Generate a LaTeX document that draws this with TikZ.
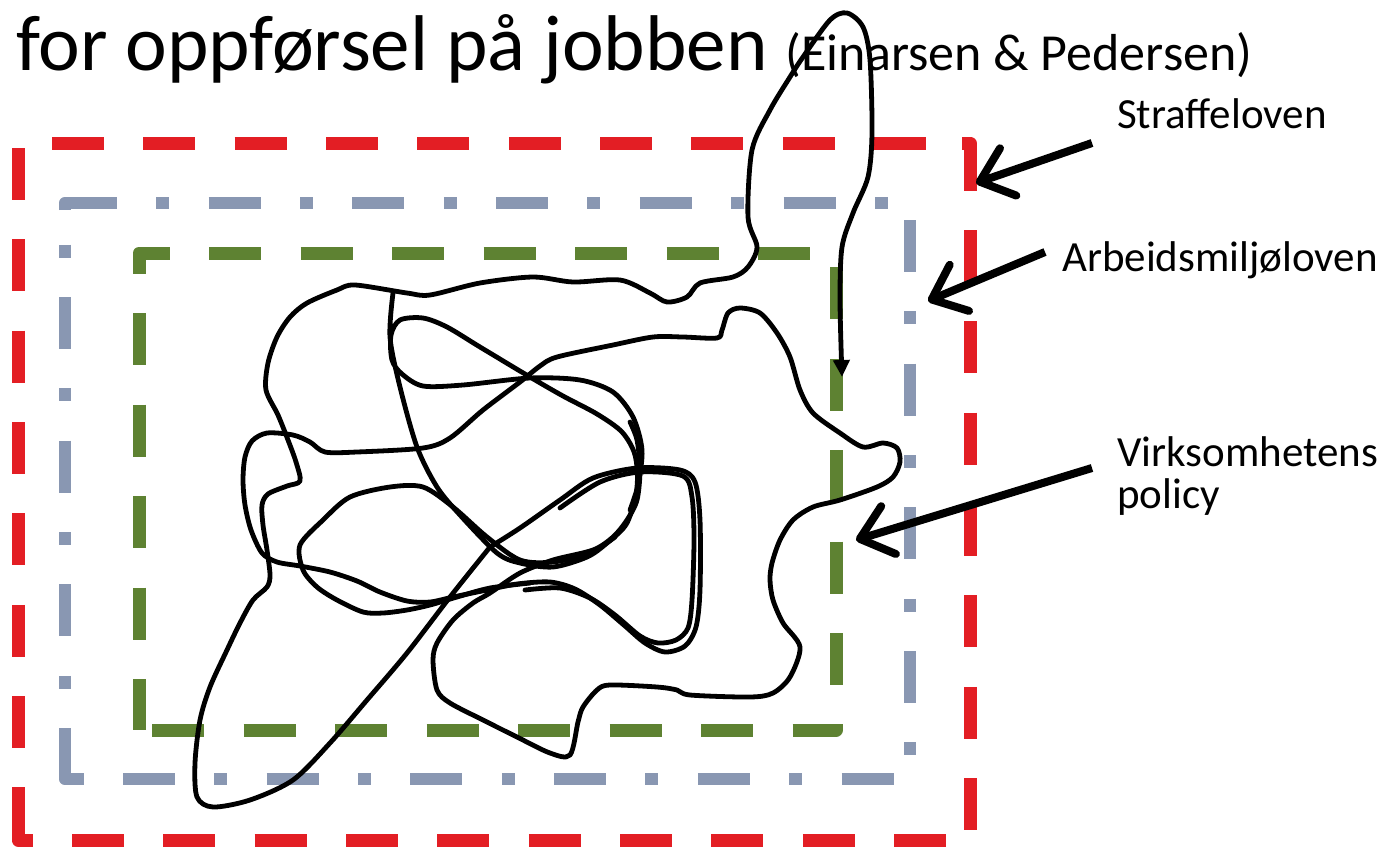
\documentclass[tikz,border=0pt]{standalone}
\usepackage{fontspec}
\setmainfont{Carlito}
\usetikzlibrary{arrows.meta}
\definecolor{lawred}{RGB}{227,30,36}
\definecolor{lawblue}{RGB}{137,151,178}
\definecolor{lawgreen}{RGB}{94,130,50}
\begin{document}
\begin{tikzpicture}[x=1pt,y=-1pt,
  redside/.style={draw=lawred,line width=13pt,dash pattern=on 52pt off 39.35pt},
  redcorner/.style={draw=lawred,line width=13pt,line join=round},
  blueside/.style={draw=lawblue,line width=12.5pt,dash pattern=on 52pt off 39.35pt on 13pt off 39.35pt},
  bluecorner/.style={draw=lawblue,line width=12.5pt,line join=round},
  greenside/.style={draw=lawgreen,line width=13pt,dash pattern=on 52pt off 39.5pt},
  greencorner/.style={draw=lawgreen,line width=13pt,line join=round},
  scribble/.style={line width=4.8pt,line join=round,line cap=round},
  labeltext/.style={anchor=base west,inner sep=0pt,font=\fontsize{43pt}{44pt}\selectfont},
  labelarrow/.style={line width=8pt,-{Straight Barb[length=30pt,width=50pt,round]}},
  tongue/.style={scribble,-{Triangle[length=17pt,width=16pt]}}]
\useasboundingbox (0,0) rectangle (1389,847);

% title
\node[anchor=base west,inner sep=0pt,font=\fontsize{79pt}{82pt}\selectfont] (title) at (16,70)
  {for oppførsel på jobben {\fontsize{52pt}{55pt}\selectfont(Einarsen \& Pedersen)}};

% outer frame: Straffeloven
\draw[redside,dash phase=57.35pt] (18,143) -- (970,143);
\draw[redside,dash phase=4.35pt] (970,143) -- (970,840);
\draw[redside,dash phase=37.35pt] (18,840) -- (970,840);
\draw[redside,dash phase=86.35pt] (18,143) -- (18,840);
\draw[redcorner] (962,143) -- (970,143) -- (970,155);
\draw[redcorner] (18,830) -- (18,840) -- (33,840);

% middle frame: Arbeidsmiljoloven
\draw[blueside,dash phase=0pt] (65,203) -- (910,203);
\draw[blueside,dash phase=126.7pt] (910,203) -- (910,779);
\draw[blueside,dash phase=85.7pt] (65,779) -- (910,779);
\draw[blueside,dash phase=49.7pt] (65,203) -- (65,779);
\draw[bluecorner] (65,210) -- (65,203) -- (75,203);
\draw[bluecorner] (65,770) -- (65,779) -- (84,779);

% inner frame: policy
\draw[greenside,dash phase=21.5pt] (139,253) -- (836,253);
\draw[greenside,dash phase=77.5pt] (836,253) -- (836,730);
\draw[greenside,dash phase=78.5pt] (139,730) -- (836,730);
\draw[greenside,dash phase=31.5pt] (139,253) -- (139,730);
\draw[greencorner] (139,273) -- (139,253) -- (160,253);
\draw[greencorner] (836,724) -- (836,730) -- (815,730);

% scribble: leaf, hump, top edge and tongue ending in an arrow
\draw[tongue] plot[smooth,tension=0.5] coordinates {
 (490,547) (450,597) (407,653) (367,700) (330,743) (293,780) (250,800) (213,807)
 (197,797) (195,763) (200,720) (210,687) (227,650) (240,623) (253,600) (267,587)
 (270,575) (267,550) (263,525) (262,505) (268,494) (287,486) (300,481) (296,462)
 (288,440) (278,415) (266,390) (268,363) (277,337) (290,317) (307,303) (337,290)
 (355,285) (407,293) (430,295) (480,283) (533,277) (573,282) (620,280) (650,293)
 (667,302) (687,297) (700,283) (733,277) (748,267) (757,247) (748,217) (752,150)
 (770,110) (790,77) (803,57) (830,20) (847,13) (863,27) (870,60) (872,133)
 (868,177) (853,213) (842,247) (840,300) (842,377)};

% scribble: diagonal, lobe, left box, right blob
\draw[scribble] plot[smooth,tension=0.5] coordinates {
 (490,547) (520,528) (560,500) (593,478) (637,468) (680,470) (695,482) (700,520)
 (700,590) (696,627) (685,646) (665,652) (645,643) (625,626) (600,605) (575,589)
 (550,582) (517,584) (487,590) (453,597) (430,602) (407,601) (380,592) (357,581)
 (330,572) (300,566) (277,562) (262,553) (251,530) (245,505) (243,480) (245,457)
 (252,441) (267,433) (293,435) (310,442) (325,452) (357,452) (423,448) (450,438)
 (483,410) (520,382) (540,366) (557,357) (613,345) (653,337) (683,337) (717,338)
 (722,330) (728,313) (740,308) (760,313) (777,333) (790,357) (800,390) (813,413)
 (840,433) (863,447) (883,443) (897,448) (900,462) (893,477) (877,487) (840,500)
 (813,507) (793,520) (780,540) (772,563) (770,580) (773,600) (783,623) (800,647)
 (790,677) (773,693) (750,697) (690,695) (677,690) (657,687) (610,685) (597,690)
 (583,707) (578,722) (570,755) (550,753) (517,737) (483,720) (450,703) (437,690)
 (433,660) (437,643) (453,620) (473,603) (490,593) (520,573) (553,560) (593,550)
 (613,537) (627,520) (637,500) (640,470) (637,440) (630,422)};

% scribble: second lobe line
\draw[scribble] plot[smooth,tension=0.5] coordinates {
 (560,508) (600,482) (640,472) (683,476) (692,497) (694,540) (692,600) (688,628)
 (676,640) (658,643) (640,636) (615,615) (590,598) (560,588) (525,590)};

% scribble: circle and lens
\draw[scribble] plot[smooth,tension=0.5] coordinates {
 (393,293) (390,337) (400,387) (417,447) (437,487) (460,515) (497,553) (520,563)
 (553,567) (587,557) (607,543) (627,523) (637,487) (635,455) (622,432) (597,414)
 (563,396) (530,377) (480,347) (447,327) (423,318) (400,320) (391,335) (392,360)
 (402,374) (423,386) (463,385) (530,378) (580,380) (613,392) (633,417) (642,450)
 (638,485) (630,510)};

% scribble: lower middle loop
\draw[scribble] plot[smooth,tension=0.5] coordinates {
 (615,537) (590,553) (553,562) (520,560) (487,537) (453,507) (423,487) (390,487)
 (350,497) (323,520) (300,545) (303,570) (317,587) (337,600) (363,612) (383,613)
 (407,610) (430,605) (457,597) (490,588) (530,583)};

% labels and arrows
\node[labeltext] (straf) at (1117,128) {Straffeloven};
\node[labeltext] (arbeid) at (1062,271) {Arbeidsmiljøloven};
\node[labeltext] (virk) at (1117,466) {Virksomhetens};
\node[labeltext] (policy) at (1117,508) {policy};

\coordinate (strafTail) at (1092,143);
\coordinate (strafTip) at (976,183);
\coordinate (arbeidTail) at (1045,252);
\coordinate (arbeidTip) at (928,301);
\coordinate (virkTail) at (1092,468);
\coordinate (virkTip) at (856,540);

\draw[labelarrow] (strafTail) -- (strafTip);
\draw[labelarrow] (arbeidTail) -- (arbeidTip);
\draw[labelarrow] (virkTail) -- (virkTip);
\end{tikzpicture}
\end{document}
